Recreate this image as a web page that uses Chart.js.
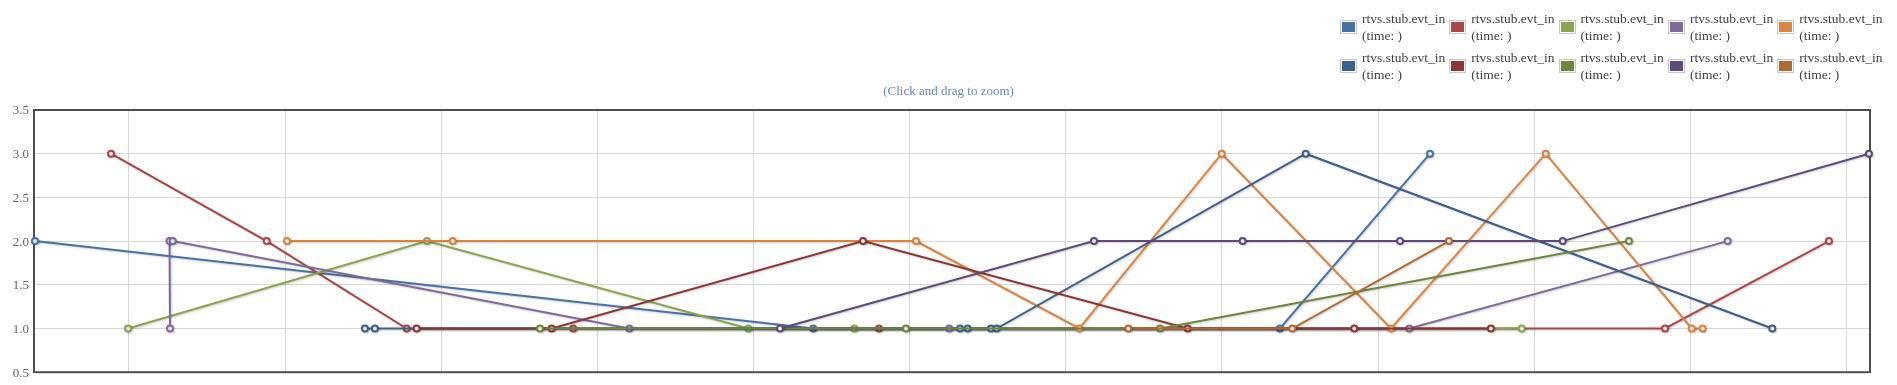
<!DOCTYPE html>
<html>
<head>
<meta charset="utf-8">
<script src="https://cdn.jsdelivr.net/npm/chart.js@4/dist/chart.umd.min.js"></script>
<style>
  html, body { margin: 0; padding: 0; background: #fff; }
  #wrap { position: relative; width: 1897px; height: 385px; overflow: hidden; }
  #chart { position: absolute; left: 0; top: 0; }
  .subtitle { position: absolute; left: 0; top: 83px; width: 1897px; text-align: center;
              font: 13px "Liberation Serif", "Times New Roman", serif; line-height: 16px; color: #6688C4; }
  .item { position: absolute; font: 13.5px "Liberation Serif", "Times New Roman", serif;
          line-height: 17.3px; color: #3f3f3f; white-space: nowrap; }
  .sym { position: absolute; width: 13px; height: 10px; padding: 1px; border: 1px solid #c8c8c8;
         background-clip: content-box; }
</style>
</head>
<body>
<div id="wrap">
  <canvas id="chart" width="1897" height="385"></canvas>
  <div class="subtitle">(Click and drag to zoom)</div>
  <div id="legend"></div>
</div>
<script>
// Series label text (every series carries the same name)
const seriesName = 'rtvs.stub.evt_in';
const seriesSub = '(time: )';

const seriesColors = ['#4572A7', '#AA4643', '#89A54E', '#80699B', '#DB843D',
                      '#3D5F8C', '#8C3634', '#6C873A', '#5E4B7C', '#B2692F'];

// y-axis tick values
const yTicks = [0.5, 1.0, 1.5, 2.0, 2.5, 3.0, 3.5];

// x positions (time units) and values per series
const s1x = [-6.02, 43.82, 73.71, 83.32];
const s1y = [2, 1, 1, 3];
const s2x = [-1.15, 8.82, 17.78, 28.45, 48.03, 98.37, 108.87];
const s2y = [3, 2, 1, 1, 1, 1, 2];
const s3x = [-0.06, 19.08, 39.66, 46.45, 89.19];
const s3y = [1, 2, 1, 1, 1];
const s4x = [2.63, 2.60, 2.80, 32.04, 52.53, 81.99, 102.38];
const s4y = [1, 2, 2, 1, 1, 1, 2];
const s5x = [10.12, 20.73, 50.40, 60.86, 69.98, 80.82, 90.73, 100.08, 100.78];
const s5y = [2, 2, 2, 1, 3, 1, 3, 1, 1];
const s6x = [15.11, 15.75, 53.22, 53.71, 55.20, 55.57, 75.36, 105.24];
const s6y = [1, 1, 1, 1, 1, 1, 3, 1];
const s7x = [18.42, 27.07, 47.01, 67.80, 78.47, 87.22];
const s7y = [1, 1, 2, 1, 1, 1];
const s8x = [26.32, 49.76, 66.03, 96.06];
const s8y = [1, 1, 1, 2];
const s9x = [41.69, 61.80, 71.32, 81.40, 91.82, 111.43];
const s9y = [1, 2, 2, 2, 2, 3];
const s10x = [64.00, 74.50, 84.53];
const s10y = [1, 1, 2];

const seriesX = [s1x, s2x, s3x, s4x, s5x, s6x, s7x, s8x, s9x, s10x];
const seriesY = [s1y, s2y, s3y, s4y, s5y, s6y, s7y, s8y, s9y, s10y];

// x range and grid spacing
const xMin = -6.08, xMax = 111.5, xStep = 10;

// Soft drop shadow under each series line
const lineShadow = {
  id: 'lineShadow',
  beforeDatasetDraw(chart) {
    const c = chart.ctx;
    c.save();
    c.shadowColor = 'rgba(0,0,0,0.2)';
    c.shadowOffsetX = 1;
    c.shadowOffsetY = 1;
    c.shadowBlur = 2;
  },
  afterDatasetDraw(chart) { chart.ctx.restore(); }
};

// Dark frame around the plot area
const plotFrame = {
  id: 'plotFrame',
  beforeDatasetsDraw(chart) {
    const { ctx, chartArea: a } = chart;
    ctx.save();
    ctx.strokeStyle = '#4d4d4d';
    ctx.lineWidth = 2;
    ctx.strokeRect(a.left, a.top, a.right - a.left, a.bottom - a.top);
    ctx.restore();
  }
};

const datasets = seriesX.map((xs, i) => ({
  label: seriesName + ' ' + seriesSub,
  data: xs.map((x, k) => ({ x: x, y: seriesY[i][k] })),
  borderColor: seriesColors[i],
  backgroundColor: '#fff',
  borderWidth: 2,
  pointRadius: 3,
  pointBorderWidth: 2,
  pointBackgroundColor: '#fff',
  pointBorderColor: seriesColors[i],
  tension: 0,
  clip: false,
  order: seriesX.length - 1 - i
}));

new Chart(document.getElementById('chart'), {
  type: 'line',
  data: { datasets },
  options: {
    responsive: false,
    animation: false,
    events: [],
    layout: { padding: { left: 0, top: 110, right: 27, bottom: 5 } },
    plugins: { legend: { display: false }, tooltip: { enabled: false } },
    scales: {
      x: {
        type: 'linear', min: xMin, max: xMax,
        afterFit(s) { s.height = 0; },
        border: { display: false },
        grid: { color: '#d6d6d6', lineWidth: 1, drawTicks: false },
        ticks: { display: false, stepSize: xStep, includeBounds: false }
      },
      y: {
        min: yTicks[0], max: yTicks[yTicks.length - 1],
        afterFit(s) { s.width = 34; },
        afterBuildTicks(s) { s.ticks = yTicks.map(v => ({ value: v })); },
        border: { display: false },
        grid: { color: '#d6d6d6', lineWidth: 1, drawTicks: false },
        ticks: {
          padding: 5, labelOffset: 1, color: '#666',
          font: { family: '"Liberation Serif", "Times New Roman", serif', size: 13 },
          callback: v => Number(v).toFixed(1)
        }
      }
    }
  },
  plugins: [plotFrame, lineShadow]
});

// Legend: two rows of five items, top right
const legend = document.getElementById('legend');
seriesColors.forEach((c, i) => {
  const row = Math.floor(i / 5), col = i % 5;
  const sym = document.createElement('div');
  sym.className = 'sym';
  sym.style.left = (1340 + 109.3 * col) + 'px';
  sym.style.top = (20 + 38.6 * row) + 'px';
  sym.style.backgroundColor = c;
  legend.appendChild(sym);
  const txt = document.createElement('div');
  txt.className = 'item';
  txt.style.left = (1362 + 109.3 * col) + 'px';
  txt.style.top = (9.8 + 39.3 * row) + 'px';
  txt.innerHTML = seriesName + '<br>' + seriesSub;
  legend.appendChild(txt);
});
</script>
</body>
</html>
